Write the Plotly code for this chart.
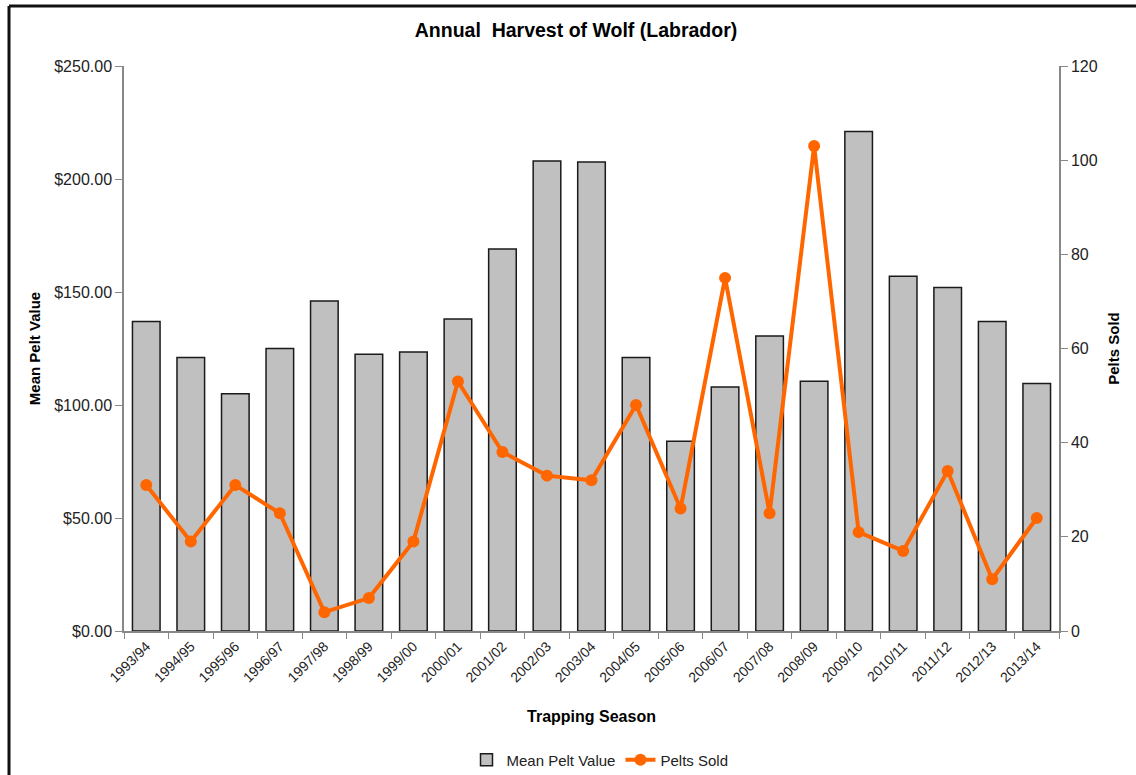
import plotly.graph_objects as go

seasons = ["1993/94", "1994/95", "1995/96", "1996/97", "1997/98", "1998/99", "1999/00",
           "2000/01", "2001/02", "2002/03", "2003/04", "2004/05", "2005/06", "2006/07",
           "2007/08", "2008/09", "2009/10", "2010/11", "2011/12", "2012/13", "2013/14"]
mean_pelt_value = [137, 121, 105, 125, 146, 122.5, 123.5, 138, 169, 208, 207.5, 121, 84,
                   108, 130.5, 110.5, 221, 157, 152, 137, 109.5]
pelts_sold = [31, 19, 31, 25, 4, 7, 19, 53, 38, 33, 32, 48, 26, 75, 25, 103, 21, 17, 34, 11, 24]

FONT = "Liberation Sans, Arial, sans-serif"

fig = go.Figure()
fig.add_trace(go.Bar(
    x=seasons, y=mean_pelt_value, name="Mean Pelt Value",
    marker=dict(color="#C0C0C0", line=dict(color="#1a1a1a", width=1.5)),
    yaxis="y",
))
fig.add_trace(go.Scatter(
    x=seasons, y=pelts_sold, name="Pelts Sold", mode="lines+markers",
    line=dict(color="#FF6600", width=4),
    marker=dict(color="#FF6600", size=12),
    yaxis="y2",
))

W, H = 1136, 775
# target positions in screenshot pixels
L, R, T, B = 124, 1059, 66, 631
pw, ph = R - L, B - T

def px(xs):
    return (xs - L) / pw

def py(ys):
    return (B - ys) / ph

def cx(xs):
    return xs / W

def cy(ys):
    return 1 - ys / H

fig.update_layout(
    width=W, height=H,
    margin=dict(l=L, r=W - R, t=T, b=H - B, autoexpand=False),
    paper_bgcolor="white", plot_bgcolor="white",
    font=dict(family=FONT, size=13, color="#222"),
    bargap=0.38,
    title=dict(text="<b>Annual  Harvest of Wolf (Labrador)</b>", x=cx(576), xanchor="center",
               y=cy(30), yanchor="middle", font=dict(size=19.5, color="#000")),
    xaxis=dict(
        range=[-0.5, len(seasons) - 0.5],
        tickangle=-45, showline=True, linecolor="#888", linewidth=1.5,
        ticks="outside", ticklen=6, tickcolor="#888", tickson="boundaries",
        tickfont=dict(size=14, color="#222"),
        title=dict(text="<b>Trapping Season</b>", font=dict(size=16, color="#000"), standoff=26),
        showgrid=False, automargin=False,
    ),
    yaxis=dict(
        range=[0, 250], dtick=50, tickprefix="$", tickformat=",.2f",
        showline=True, linecolor="#888", linewidth=1.5,
        ticks="outside", ticklen=7, tickcolor="#888", showgrid=False, zeroline=False,
        tickfont=dict(size=16, color="#222"), automargin=False,
        title=dict(text="<b>Mean Pelt Value</b>", font=dict(size=15, color="#000"), standoff=10),
    ),
    yaxis2=dict(
        range=[0, 120], dtick=20, overlaying="y", side="right",
        showline=True, linecolor="#888", linewidth=1.5,
        ticks="outside", ticklen=7, tickcolor="#888", showgrid=False, zeroline=False,
        tickfont=dict(size=16, color="#222"), automargin=False,
        title=dict(text="<b>Pelts Sold</b>", font=dict(size=15, color="#000"), standoff=12),
    ),
    legend=dict(orientation="h", xref="container", yref="container",
                x=cx(600), xanchor="center", y=cy(760), yanchor="middle",
                font=dict(size=15, color="#222"), traceorder="normal"),
    shapes=[
        dict(type="line", xref="paper", yref="paper",
             x0=px(9), x1=px(1140), y0=py(6), y1=py(6),
             line=dict(color="#111", width=3)),
        dict(type="line", xref="paper", yref="paper",
             x0=px(9), x1=px(9), y0=py(6), y1=py(780),
             line=dict(color="#111", width=3)),
    ],
)

fig.write_html("out.html", config={"displayModeBar": False},
               post_script="document.body.style.margin='0';")
